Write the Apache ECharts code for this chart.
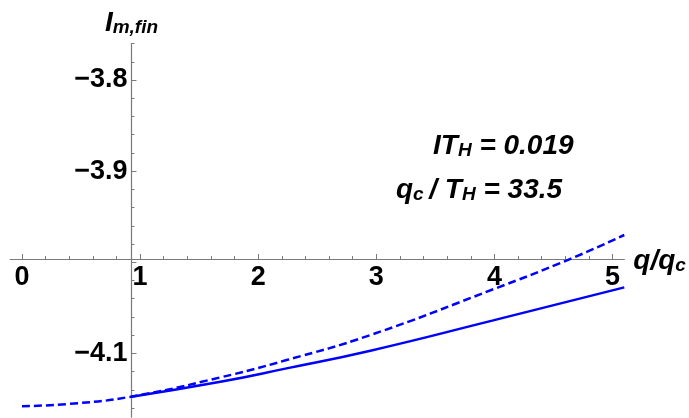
<!DOCTYPE html>
<html><head><meta charset="utf-8">
<script src="https://cdn.jsdelivr.net/npm/echarts@6/dist/echarts.min.js"></script>
<style>html,body{margin:0;padding:0;background:#fff}#c{width:689px;height:418px}</style>
</head><body><div id="c"></div>
<script>
// Data
const dashedX = [0, 0.4, 0.92, 1.68, 2.24, 2.95, 3.99, 4.64, 5.1];
const dashedY = [-4.158, -4.1555, -4.1476, -4.1264, -4.1074, -4.0799, -4.0297, -3.9965, -3.9701];
const solidX = [0.927, 1.68, 2.24, 2.95, 3.99, 5.1];
const solidY = [-4.1476, -4.1312, -4.1165, -4.0971, -4.0638, -4.0276];
const xMajorTicks = [0, 1, 2, 3, 4, 5];
const xMinorTicks = [0.2,0.4,0.6,0.8,1.2,1.4,1.6,1.8,2.2,2.4,2.6,2.8,3.2,3.4,3.6,3.8,4.2,4.4,4.6,4.8];
const yMajorTicks = [-4.1, -4.0, -3.9, -3.8];
const yLabelTicks = [-4.1, -3.9, -3.8];
const yMinorTicks = [-4.16,-4.14,-4.12,-4.08,-4.06,-4.04,-4.02,-3.98,-3.96,-3.94,-3.92,-3.88,-3.86,-3.84,-3.82,-3.78,-3.76];
const xRange = [-0.1, 5.1];
const yRange = [-4.17, -3.76];
const axesOrigin = [0.927, -3.9965];
const annot1 = '{m|IT}{s|H}{m| = 0.019}';
const annot2 = '{m|q}{s|c}{m|\u2009/ T}{s|H}{m| = 33.5}';

const W = 689, H = 418;
const G = {left: 10.2, right: 64.7, top: 43.6, bottom: 0.9};
const gw = W - G.left - G.right, gh = H - G.top - G.bottom;
const xAxisOffset = -gh * (axesOrigin[1] - yRange[0]) / (yRange[1] - yRange[0]);
const yAxisOffset = -gw * (axesOrigin[0] - xRange[0]) / (xRange[1] - xRange[0]);

const FF = 'Liberation Sans';
const axisColor = '#7a7a7a';
const blue = '#0000ff';
const richMain = {fontFamily: FF, fontWeight: 'bold', fontStyle: 'italic', fontSize: 28, lineHeight: 32, verticalAlign: 'bottom', color: '#000'};
const richSub = {fontFamily: FF, fontWeight: 'bold', fontStyle: 'italic', fontSize: 19, lineHeight: 14, verticalAlign: 'bottom', color: '#000'};

const chart = echarts.init(document.getElementById('c'), null, {renderer: 'canvas'});
const baseX = {
  type: 'value', min: xRange[0], max: xRange[1], position: 'bottom', offset: xAxisOffset,
  splitLine: {show: false}
};
const baseY = {
  type: 'value', min: yRange[0], max: yRange[1], position: 'left', offset: yAxisOffset,
  splitLine: {show: false}
};
chart.setOption({
  animation: false,
  backgroundColor: '#fff',
  grid: {left: G.left, right: G.right, top: G.top, bottom: G.bottom, containLabel: false},
  xAxis: [
    Object.assign({}, baseX, {
      axisLine: {show: true, lineStyle: {color: axisColor, width: 1.2}},
      axisTick: {show: true, inside: true, length: 5, customValues: xMajorTicks, lineStyle: {color: axisColor}},
      axisLabel: {show: true, customValues: xMajorTicks, margin: 5, fontFamily: FF, fontWeight: 'bold', fontSize: 27, color: '#000', formatter: v => String(Math.round(v))},
      name: '{m|q/q}{s|c}', nameLocation: 'end', nameGap: 9,
      nameTextStyle: {rich: {m: richMain, s: richSub}, verticalAlign: 'middle'}
    }),
    Object.assign({}, baseX, {
      axisLine: {show: false},
      axisTick: {show: true, inside: true, length: 3, customValues: xMinorTicks, lineStyle: {color: axisColor}},
      axisLabel: {show: false}
    })
  ],
  yAxis: [
    Object.assign({}, baseY, {
      axisLine: {show: true, lineStyle: {color: axisColor, width: 1.2}},
      axisTick: {show: true, inside: true, length: 5, customValues: yMajorTicks, lineStyle: {color: axisColor}},
      axisLabel: {show: true, customValues: yLabelTicks, margin: 4, fontFamily: FF, fontWeight: 'bold', fontSize: 27, color: '#000', formatter: v => v.toFixed(1).replace('-', '\u2212')},
      name: '{m|I}{s|m,fin}', nameLocation: 'end', nameGap: 6,
      nameTextStyle: {rich: {m: richMain, s: richSub}, align: 'center'}
    }),
    Object.assign({}, baseY, {
      axisLine: {show: false},
      axisTick: {show: true, inside: true, length: 3, customValues: yMinorTicks, lineStyle: {color: axisColor}},
      axisLabel: {show: false}
    })
  ],
  series: [
    {
      type: 'line', xAxisIndex: 0, yAxisIndex: 0, smooth: 0.5, showSymbol: false,
      data: dashedX.map((x, i) => [x, dashedY[i]]),
      lineStyle: {color: blue, width: 2.5, type: [8, 4]}
    },
    {
      type: 'line', xAxisIndex: 0, yAxisIndex: 0, smooth: 0.5, showSymbol: false,
      data: solidX.map((x, i) => [x, solidY[i]]),
      lineStyle: {color: blue, width: 2.5}
    }
  ],
  graphic: [
    {type: 'text', left: 433, top: 132, style: {text: annot1, rich: {m: richMain, s: richSub}}},
    {type: 'text', left: 396, top: 176, style: {text: annot2, rich: {m: richMain, s: richSub}}}
  ]
});
</script>
</body></html>
